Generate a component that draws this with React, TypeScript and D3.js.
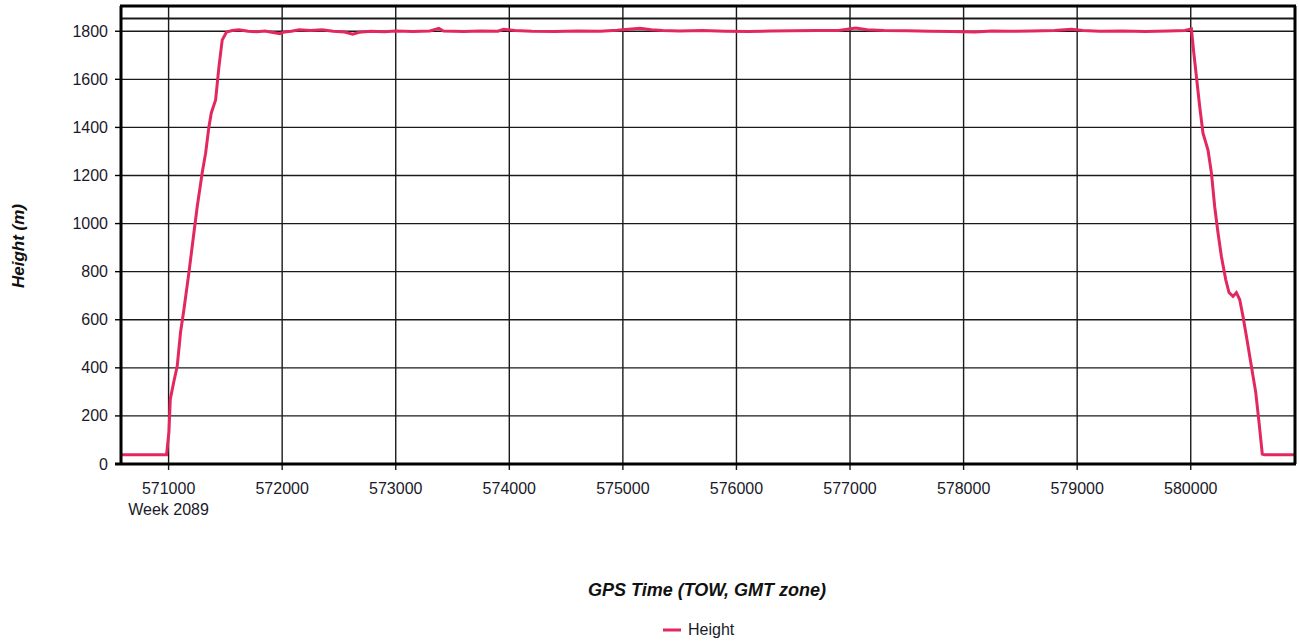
import React from "react";
import * as d3 from "d3";

// ---- data (GPS TOW seconds, height m) ----
const groundBefore: [number, number][] = [
  [570581, 38], [570982, 38],
];
const ascent: [number, number][] = [
  [571003, 133], [571015, 270], [571045, 340], [571076, 407], [571105, 547],
  [571135, 643], [571179, 796], [571223, 962], [571252, 1070], [571296, 1211],
  [571326, 1293], [571355, 1402], [571376, 1460], [571414, 1514], [571443, 1651],
  [571472, 1763],
];
const plateau: [number, number][] = [
  [571510, 1797], [571560, 1803], [571620, 1806], [571700, 1800], [571780, 1798],
  [571850, 1801], [571920, 1795], [571980, 1790], [572020, 1797], [572080, 1800],
  [572150, 1806], [572250, 1803], [572350, 1806], [572450, 1800], [572550, 1797],
  [572620, 1788], [572680, 1796], [572780, 1800], [572900, 1798], [573000, 1801],
  [573150, 1799], [573300, 1801], [573380, 1812], [573420, 1801], [573600, 1799],
  [573750, 1801], [573900, 1800], [573950, 1808], [574050, 1803], [574200, 1800],
  [574400, 1799], [574600, 1801], [574800, 1800], [574950, 1804], [575050, 1808],
  [575150, 1812], [575250, 1806], [575350, 1803], [575500, 1801], [575700, 1803],
  [575900, 1800], [576100, 1799], [576300, 1801], [576500, 1802], [576700, 1803],
  [576900, 1803], [577050, 1813], [577150, 1806], [577300, 1803], [577500, 1802],
  [577700, 1800], [577900, 1799], [578100, 1797], [578250, 1801], [578400, 1800],
  [578600, 1801], [578800, 1803], [578950, 1808], [579050, 1803], [579200, 1800],
  [579400, 1801], [579600, 1799], [579800, 1801], [579950, 1803], [580006, 1810],
];
const descent: [number, number][] = [
  [580026, 1714], [580050, 1611], [580079, 1486], [580108, 1376], [580152, 1306],
  [580182, 1211], [580211, 1070], [580240, 962], [580270, 863], [580308, 767],
  [580337, 713], [580372, 697], [580402, 713], [580431, 684], [580460, 614],
  [580495, 518], [580534, 407], [580572, 299], [580601, 174], [580630, 41],
];
const groundAfter: [number, number][] = [
  [580650, 38], [580918, 38],
];

const xTicks = [571000, 572000, 573000, 574000, 575000, 576000, 577000, 578000, 579000, 580000];
const yTicks = [0, 200, 400, 600, 800, 1000, 1200, 1400, 1600, 1800];
const weekLabel = "Week 2089";
const seriesName = "Height";

export default function App() {
  const left = 121, right = 1295, top = 6, bottom = 464;
  const x = d3.scaleLinear().domain([570581, 580918]).range([left, right]);
  const y = d3.scaleLinear().domain([0, 1905]).range([bottom, top]);
  const data = [...groundBefore, ...ascent, ...plateau, ...descent, ...groundAfter];
  const line = d3.line<[number, number]>().x(d => x(d[0])).y(d => y(d[1]));
  const font = "Arial, 'Liberation Sans', sans-serif";
  const color = "#E2285F";
  const grid = "#1a1a1a";
  return (
    <svg width={1299} height={643} style={{ position: "absolute", left: 0, top: 0, background: "#fff" }}
      fontFamily={font}>
      {/* grid */}
      {yTicks.map(t => (
        <line key={"gy" + t} x1={left} x2={right} y1={y(t)} y2={y(t)} stroke={grid} strokeWidth={1.4} />
      ))}
      <line x1={left} x2={right} y1={y(1853)} y2={y(1853)} stroke={grid} strokeWidth={1.8} />
      {xTicks.map(t => (
        <line key={"gx" + t} x1={x(t)} x2={x(t)} y1={top} y2={bottom + 6} stroke={grid} strokeWidth={1.4} />
      ))}
      {/* series */}
      <path d={line(data) || ""} fill="none" stroke={color} strokeWidth={3} strokeLinejoin="miter" />
      {/* frame */}
      <line x1={left - 1} x2={right + 1} y1={top} y2={top} stroke="#000" strokeWidth={3} />
      <line x1={right} x2={right} y1={top} y2={bottom} stroke="#000" strokeWidth={3} />
      <line x1={left} x2={left} y1={top} y2={bottom + 1} stroke="#000" strokeWidth={3} />
      <line x1={left - 6} x2={right + 1} y1={bottom} y2={bottom} stroke="#000" strokeWidth={3} />
      {/* y ticks */}
      {yTicks.map(t => (
        <g key={"ty" + t}>
          <line x1={left - 6} x2={left} y1={y(t)} y2={y(t)} stroke="#000" strokeWidth={1.4} />
          <text x={108} y={y(t) + 5.5} textAnchor="end" fontSize={16} fill="#1a1a2a">{t}</text>
        </g>
      ))}
      {/* x ticks */}
      {xTicks.map(t => (
        <text key={"tx" + t} x={x(t)} y={494} textAnchor="middle" fontSize={16} fill="#1a1a2a">{t}</text>
      ))}
      <text x={x(xTicks[0])} y={515} textAnchor="middle" fontSize={16} fill="#1a1a2a">{weekLabel}</text>
      {/* axis titles */}
      <text x={707} y={596} textAnchor="middle" fontSize={18} fontWeight="bold" fontStyle="italic" fill="#111">
        GPS Time (TOW, GMT zone)
      </text>
      <text transform="translate(24,246) rotate(-90)" textAnchor="middle" fontSize={17} fontWeight="bold"
        fontStyle="italic" fill="#111">Height (m)</text>
      {/* legend */}
      <line x1={663} x2={681} y1={630} y2={630} stroke={color} strokeWidth={3} />
      <text x={688} y={635} fontSize={16} fill="#1a1a2a">{seriesName}</text>
    </svg>
  );
}
